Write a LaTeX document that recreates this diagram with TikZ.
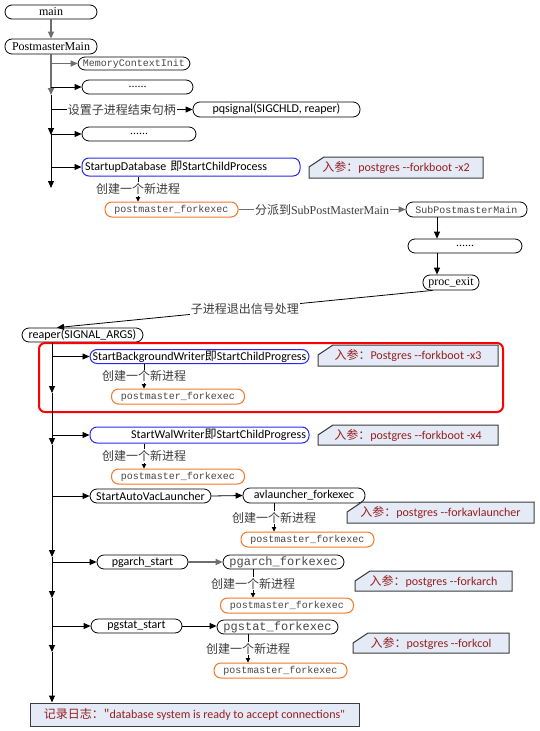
\documentclass[tikz,border=0pt]{standalone}
\usepackage{fontspec}
\setmainfont{Liberation Serif}
\newfontfamily\calfont{Carlito}
\newfontfamily\cjkfont{Noto Sans CJK SC}
\newfontfamily\monofnt{Liberation Mono}
\usetikzlibrary{arrows.meta}
\definecolor{myblue}{RGB}{40,40,240}
\definecolor{myorange}{RGB}{240,120,40}
\definecolor{notefill}{RGB}{228,235,246}
\definecolor{noteedge}{RGB}{60,60,60}
\definecolor{notetext}{RGB}{150,30,30}
\definecolor{lblgray}{RGB}{60,60,60}
\definecolor{monogray}{RGB}{70,70,70}
\definecolor{linegray}{RGB}{110,110,110}
\newcommand{\mynote}[6]{%
  \draw[notebox] (#1,#2+10) -- (#1+15,#2) -- (#3,#2) -- (#3,#4) -- (#1,#4) -- cycle;
  \node[notetxt] (#5) at ({(#1+#3)/2},{(#2+#4)/2}) {#6};}
\begin{document}
\begin{tikzpicture}[x=1pt,y=-1pt,
  pill/.style={draw, rounded corners=7pt, inner xsep=2pt, inner ysep=0pt, line width=0.8pt,
    font=\calfont\fontsize{12}{12}\selectfont},
  serifn/.style={font=\rmfamily\fontsize{12}{12}\selectfont},
  mono/.style={font=\monofnt\fontsize{10}{10}\selectfont, text=monogray},
  monob/.style={font=\monofnt\fontsize{12}{12}\selectfont, text=monogray},
  bluep/.style={draw=myblue, line width=1pt},
  orp/.style={pill, mono, draw=myorange, line width=1pt, minimum width=133, minimum height=15},
  lbl/.style={fill=white, inner sep=1pt, font=\cjkfont\fontsize{12}{12}\selectfont, text=lblgray},
  notebox/.style={draw=noteedge, fill=notefill, line width=1pt},
  notetxt/.style={inner sep=0pt, text=notetext, font=\calfont\fontsize{12}{12}\selectfont},
  barr/.style={-{Triangle[width=6pt,length=7pt]}, line width=0.8pt},
  garr/.style={-{Triangle[width=6pt,length=7pt]}, line width=1.6pt, draw=linegray},
  tarr/.style={-{Triangle[width=6pt,length=7pt]}, line width=1pt},
  sarr/.style={-{Triangle[width=4.5pt,length=4.5pt]}, line width=0.8pt}
]
\useasboundingbox (0,0) rectangle (539,731);

% ---- upper part ----
\node[pill, serifn, minimum width=92, minimum height=14] (main) at (51,12) {main};
\node[pill, serifn, minimum width=92, minimum height=15] (pm) at (51,46.5) {PostmasterMain};
\node[pill, mono, minimum width=112, minimum height=13] (mci) at (134,63.5) {MemoryContextInit};
\node[pill, serifn, minimum width=111, minimum height=14] (d1) at (137.5,87) {......};
\node[pill, minimum width=167, minimum height=15] (pq) at (276.5,109.5) {pqsignal(SIGCHLD, reaper)};
\node[pill, serifn, minimum width=114, minimum height=14] (d2) at (139,134) {......};
\node[pill, bluep, text width=212, align=left, minimum width=218, minimum height=18] (sdb) at (191,167)
  {StartupDatabase {\cjkfont 即}StartChildProcess};
\mynote{309}{157}{483}{178}{n1}{{\cjkfont 入参：}postgres -{}-forkboot -x2}
\node[orp] (pfe1) at (171.5,209.5) {postmaster\_forkexec};
\node[pill, mono, minimum width=121, minimum height=15] (spm) at (466.5,209.5) {SubPostmasterMain};
\node[pill, serifn, minimum width=114, minimum height=14] (d3) at (465,246) {......};
\node[pill, serifn, minimum width=56, minimum height=15] (pexit) at (451,282.5) {proc\_exit};

\draw[garr] (main) -- (pm);
\coordinate (ta) at (51,95);
\coordinate (tb) at (51,135);
\coordinate (tc) at (51,188);
\draw[garr] (pm.south) -- (ta);
\draw[tarr] (ta) -- (tb);
\draw[tarr] (tb) -- (tc);
\draw[garr] (pm.south |- mci.west) -- (mci.west);
\draw[barr] (pm.south |- d1.west) -- (d1.west);
\draw[barr] (pm.south |- pq.west) -- node[lbl]{设置子进程结束句柄} (pq.west);
\draw[barr] (pm.south |- d2.west) -- (d2.west);
\draw[barr] (pm.south |- sdb.west) -- (sdb.west);
\coordinate (c1) at (138,0);
\draw[sarr] (sdb.south -| c1) -- node[lbl]{创建一个新进程} (pfe1.north -| c1);
\draw[garr] (pfe1.east) -- node[lbl]{分派到{\rmfamily SubPostMasterMain}} (spm.west);
\coordinate (c2) at (437,0);
\draw[barr] (spm.south -| c2) -- (d3.north -| c2);
\draw[barr] (d3.south -| c2) -- (pexit.north -| c2);

% ---- reaper part ----
\node[pill, minimum width=121, minimum height=14] (reaper) at (82.5,335) {reaper(SIGNAL\_ARGS)};
\draw[barr] ([xshift=10pt]pexit.south west) -- node[lbl]{子进程退出信号处理} ([xshift=-25.5pt]reaper.north);

\draw[red, line width=2pt, rounded corners=6pt] (39,343) rectangle (503,412);

\node[pill, bluep, minimum width=219, minimum height=14] (bgw) at (199.5,356.5)
  {StartBackgroundWriter{\cjkfont 即}StartChildProgress};
\mynote{318}{345}{498}{366}{n2}{{\cjkfont 入参：}Postgres -{}-forkboot -x3}
\node[orp] (pfe2) at (178,396.5) {postmaster\_forkexec};

\node[pill, bluep, text width=213, align=right, minimum width=219, minimum height=16] (wal) at (199.5,435)
  {StartWalWriter{\cjkfont 即}StartChildProgress};
\mynote{318}{425}{498}{445}{n3}{{\cjkfont 入参：}postgres -{}-forkboot -x4}
\node[orp] (pfe3) at (178,476.5) {postmaster\_forkexec};

\node[pill, minimum width=121, minimum height=14] (avl) at (150.5,496) {StartAutoVacLauncher};
\node[pill, minimum width=122, minimum height=15] (avlf) at (304,495.5) {avlauncher\_forkexec};
\mynote{347}{502}{534}{523}{n4}{{\cjkfont 入参：}postgres -{}-forkavlauncher}
\node[orp] (pfe4) at (307.5,539.5) {postmaster\_forkexec};

\node[pill, minimum width=91, minimum height=14] (pga) at (142.5,562) {pgarch\_start};
\node[pill, monob, minimum width=121, minimum height=14] (pgaf) at (283.5,562) {pgarch\_forkexec};
\mynote{355}{571}{512}{591}{n5}{{\cjkfont 入参：}postgres -{}-forkarch}
\node[orp] (pfe5) at (287,605.5) {postmaster\_forkexec};

\node[pill, minimum width=91, minimum height=14] (pgs) at (136.5,626) {pgstat\_start};
\node[pill, monob, minimum width=121, minimum height=14] (pgsf) at (277.5,627) {pgstat\_forkexec};
\mynote{353}{633}{509}{653}{n6}{{\cjkfont 入参：}postgres -{}-forkcol}
\node[orp] (pfe6) at (280.5,670.5) {postmaster\_forkexec};

\node[draw=noteedge, fill=notefill, line width=1pt, minimum width=329, minimum height=23, inner sep=0pt,
  text=notetext, font=\calfont\fontsize{12}{12}\selectfont] (log) at (194.5,714.5)
  {{\cjkfont 记录日志："}database system is ready to accept connections"};

% trunk 2
\coordinate (r0) at (52,342);
\coordinate (r1) at (52,393);
\coordinate (r2) at (52,445);
\coordinate (r3) at (52,557);
\coordinate (r4) at (52,598);
\coordinate (r5) at (52,652);
\draw[tarr] (r0) -- (r1);
\draw[tarr] (r1) -- (r2);
\draw[tarr] (r2) -- (r3);
\draw[tarr] (r3) -- (r4);
\draw[tarr] (r4) -- (r5);
\draw[tarr] (r5) -- (log.north -| r0);

\draw[barr] (r0 |- bgw.west) -- (bgw.west);
\draw[barr] (r0 |- wal.west) -- (wal.west);
\draw[barr] (r0 |- avl.west) -- (avl.west);
\draw[barr] (r0 |- pga.west) -- (pga.west);
\draw[barr] (r0 |- pgs.west) -- (pgs.west);
\draw[barr] (avl.east) -- (avlf.west);
\draw[garr] (pga.east) -- (pgaf.west);
\draw[barr] (pgs.east) -- (pgs.east -| pgsf.west);

\coordinate (c3) at (144,0);
\coordinate (c4) at (274,0);
\coordinate (c5) at (253,0);
\coordinate (c6) at (248,0);
\draw[sarr] (bgw.south -| c3) -- node[lbl]{创建一个新进程} (pfe2.north -| c3);
\draw[sarr] (wal.south -| c3) -- node[lbl]{创建一个新进程} (pfe3.north -| c3);
\draw[sarr] (avlf.south -| c4) -- node[lbl]{创建一个新进程} (pfe4.north -| c4);
\draw[sarr] (pgaf.south -| c5) -- node[lbl]{创建一个新进程} (pfe5.north -| c5);
\draw[sarr] (pgsf.south -| c6) -- node[lbl]{创建一个新进程} (pfe6.north -| c6);
\end{tikzpicture}
\end{document}
